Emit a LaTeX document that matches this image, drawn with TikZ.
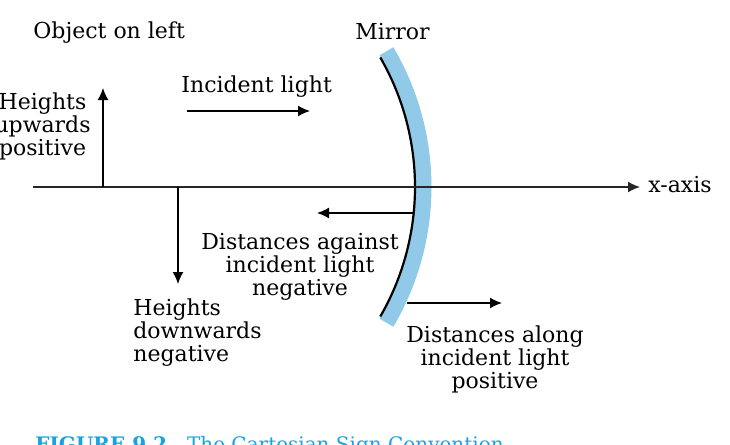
\documentclass[tikz,border=0pt]{standalone}
\usepackage{fontspec}
\setmainfont{DejaVu Serif}
\usetikzlibrary{arrows.meta}
\definecolor{mirrorblue}{RGB}{145,202,232}
\definecolor{capcyan}{RGB}{20,165,225}

\begin{document}
\begin{tikzpicture}[x=0.5pt,y=-0.5pt]
	\tikzstyle{lbl} = [inner sep=0pt,font=\fontsize{11}{11.5}\selectfont]
	\tikzstyle{signedge} = [-{Latex[length=6pt,width=5.5pt]},line width=0.7pt]
	\useasboundingbox (0,0) rectangle (730,445);

	% POINTS %
	\coordinate (axl) at (33,187);
	\coordinate (axr) at (640,187);
	\coordinate (cc) at (156,187); % centre of the mirror
	\coordinate (upfoot) at (103,187);
	\coordinate (uptip) at (103,88);
	\coordinate (dnfoot) at (178,187);
	\coordinate (dntip) at (178,284);
	\coordinate (incl) at (187,111);
	\coordinate (incr) at (310,111);
	\coordinate (agst) at (414,213);
	\coordinate (agsttip) at (317,213);
	\coordinate (alng) at (407,303);
	\coordinate (alngtip) at (502,303);

	% MIRROR %
	\draw[mirrorblue,line width=8pt] (cc) ++(-30.5:267.5) arc[start angle=-30.5,end angle=30.5,radius=267.5];
	\draw[line width=1.1pt] (cc) ++(-30:259) arc[start angle=-30,end angle=30,radius=259];

	% ARROWS %
	\draw[signedge,black!85] (axl) -- (axr);
	\draw[signedge] (upfoot) -- (uptip);
	\draw[signedge] (dnfoot) -- (dntip);
	\draw[signedge] (incl) -- (incr);
	\draw[signedge] (agst) -- (agsttip);
	\draw[signedge] (alng) -- (alngtip);

	% LABELS %
	\node[lbl,anchor=base west] (objleft) at (33,38) {Object on left};
	\node[lbl,anchor=base west] (mirror) at (355,39) {Mirror};
	\node[lbl,anchor=base west] (incid) at (181,92) {Incident light};
	\node[lbl,anchor=base west] (xlbl) at (648,192) {x-axis};
	\node[lbl,align=center,anchor=north east] (hup) at (91,92) {Heights\\upwards\\positive};
	\node[lbl,align=left,anchor=north west] (hdown) at (133,298) {Heights\\downwards\\negative};
	\node[lbl,align=center,anchor=north] (dneg) at (300,233) {Distances against\\incident light\\negative};
	\node[lbl,align=center,anchor=north] (dpos) at (495,325) {Distances along\\incident light\\positive};
	\node[anchor=base west,inner sep=0pt,font=\fontsize{10}{10}\selectfont,text=capcyan] (caption) at (35,451) {\textbf{FIGURE 9.2}\quad The Cartesian Sign Convention};
\end{tikzpicture}
\end{document}
